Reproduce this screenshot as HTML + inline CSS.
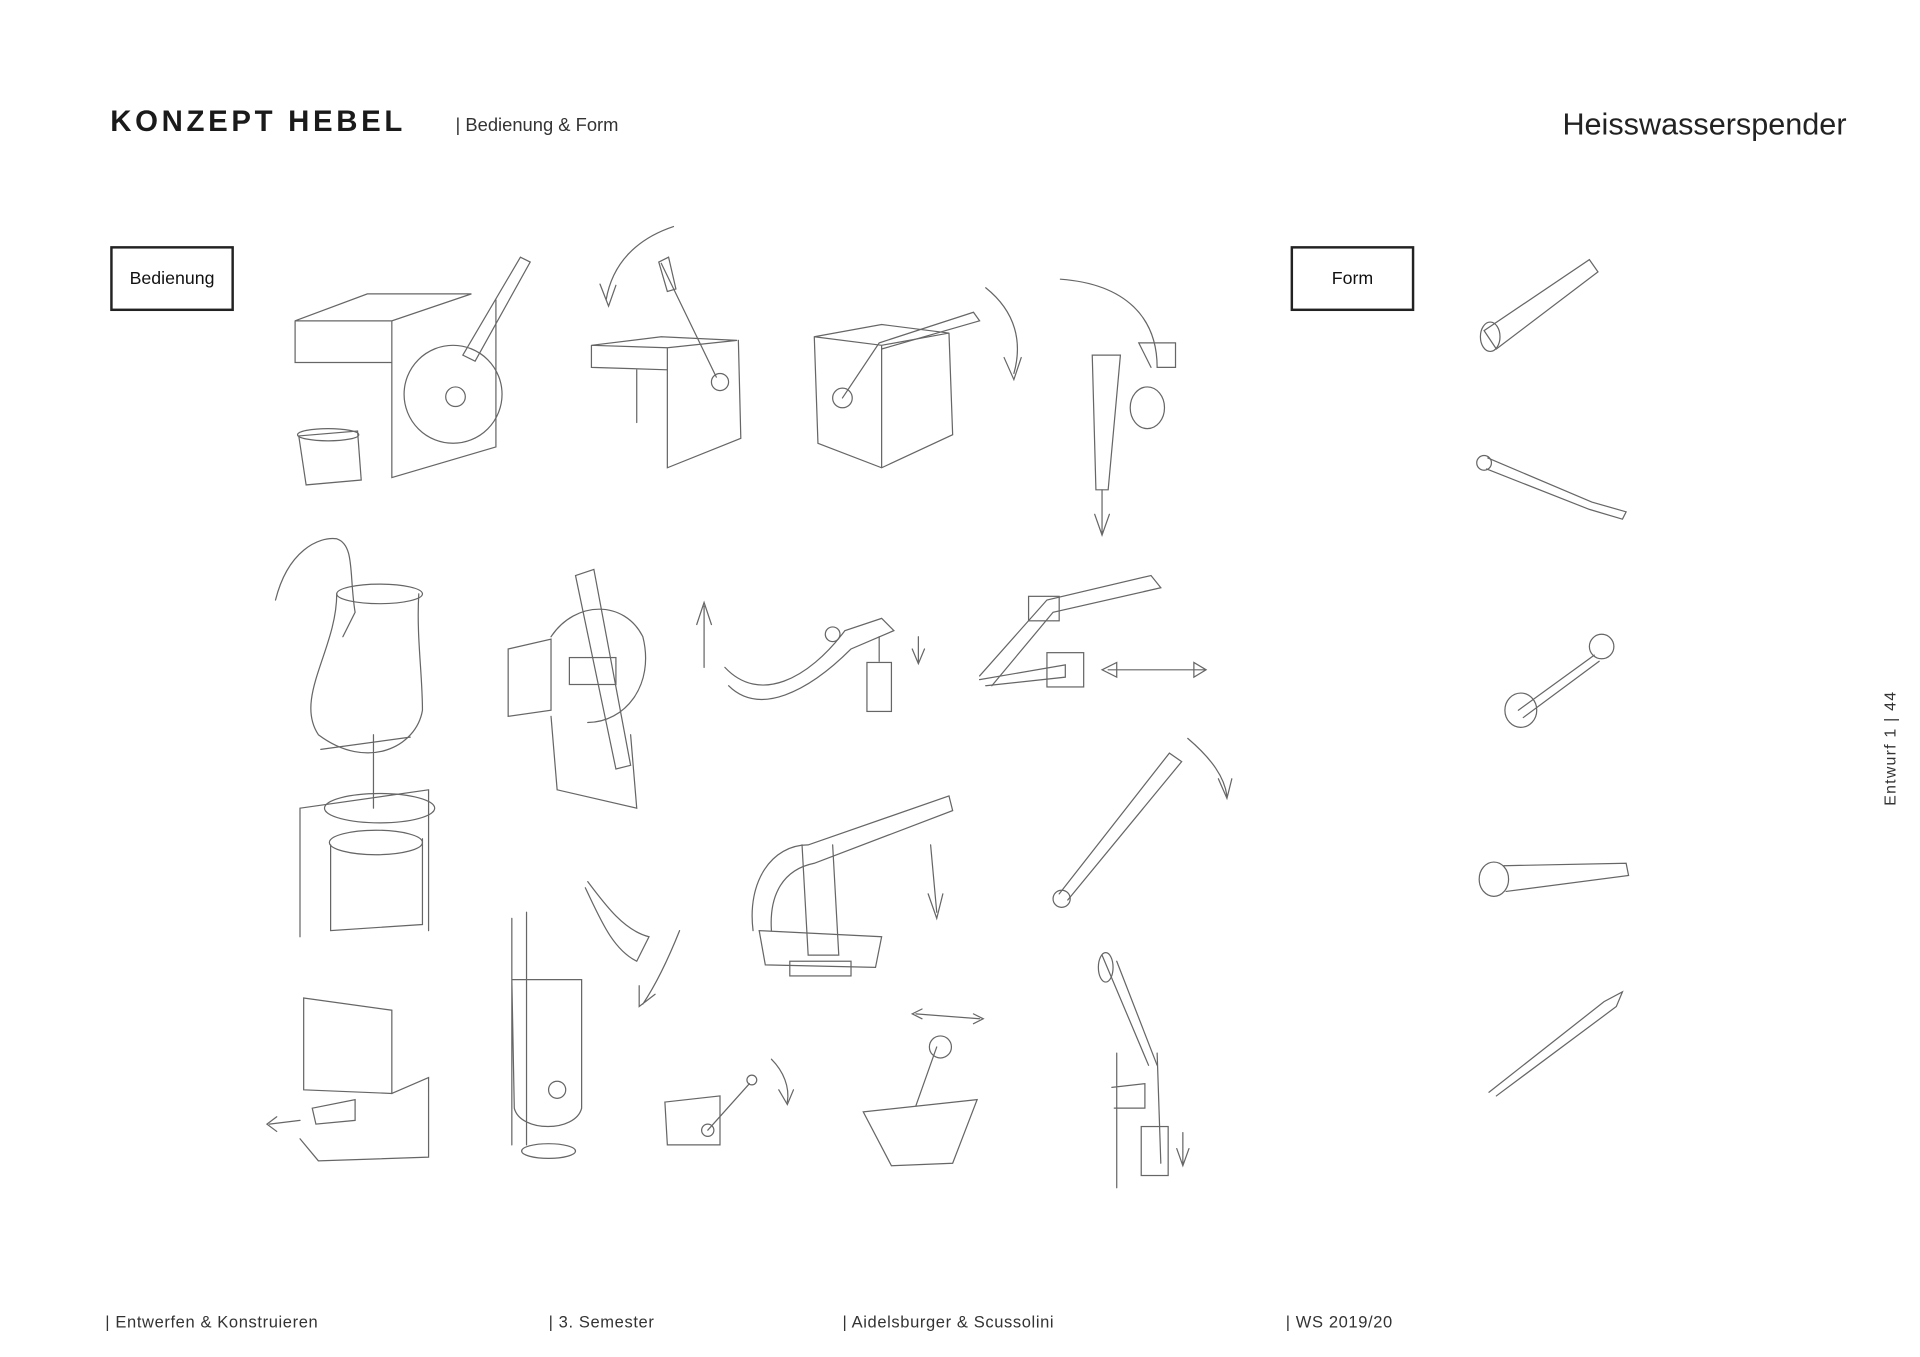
<!DOCTYPE html>
<html><head><meta charset="utf-8"><style>
html,body{margin:0;padding:0;background:#fff;}
body{width:1920px;height:1357px;overflow:hidden;}
svg{display:block}
</style></head><body>
<svg width="1920" height="1357" viewBox="0 0 1568 1108.2" xmlns="http://www.w3.org/2000/svg" font-family="Liberation Sans, sans-serif">
<text x="90" y="107" font-size="24" font-weight="bold" letter-spacing="3" fill="#1a1a1a">KONZEPT HEBEL</text>
<text x="372" y="107" font-size="15" fill="#333">| Bedienung &amp; Form</text>
<text x="1508" y="110" font-size="25" fill="#222" text-anchor="end" textLength="232" lengthAdjust="spacingAndGlyphs">Heisswasserspender</text>
<rect x="91" y="202" width="99" height="51" fill="none" stroke="#222" stroke-width="2"/>
<text x="140.5" y="232" font-size="14.5" text-anchor="middle" fill="#111">Bedienung</text>
<rect x="1055" y="202" width="99" height="51" fill="none" stroke="#222" stroke-width="2"/>
<text x="1104.5" y="232" font-size="14.5" text-anchor="middle" fill="#111">Form</text>
<g font-size="13.5" fill="#333" letter-spacing="0.5">
<text x="86" y="1084">|  Entwerfen &amp; Konstruieren</text>
<text x="448" y="1084">|  3. Semester</text>
<text x="688" y="1084">|  Aidelsburger &amp;  Scussolini</text>
<text x="1050" y="1084">|  WS 2019/20</text>
</g>
<text transform="translate(1548,658) rotate(-90)" font-size="13" fill="#333" letter-spacing="1">Entwurf 1   |   44</text>
<g fill="none" stroke="#666" stroke-width="1" stroke-linecap="round">
<!-- sketch 1 -->
<path d="M241 262 L300 240 L385 240 L320 262 Z M241 262 L241 296 L320 296 M320 262 L320 390 L405 365 L405 245"/>
<circle cx="370" cy="322" r="40"/><circle cx="372" cy="324" r="8"/>
<path d="M378 290 L425 210 L433 214 L388 295 Z"/>
<path d="M244 356 L292 352 L295 392 L250 396 Z"/><ellipse cx="268" cy="355" rx="25" ry="5"/>
<!-- sketch 2 -->
<path d="M483 282 L540 275 L602 278 L545 284 Z M483 282 L483 300 L545 302 M545 284 L545 382 L605 358 L603 278 M520 302 L520 345"/>
<path d="M540 215 L585 308"/><circle cx="588" cy="312" r="7"/><path d="M538 214 L546 210 L552 236 L545 238 Z"/>
<path d="M550 185 C520 195 500 215 495 245 M490 232 L497 250 L503 233"/>
<!-- sketch 3 -->
<path d="M665 275 L720 265 L775 272 L720 282 Z M665 275 L668 362 L720 382 L778 355 L775 272 M720 282 L720 382"/>
<circle cx="688" cy="325" r="8"/><path d="M688 325 L718 280 L795 255 L800 262 L720 285"/>
<path d="M805 235 C830 255 835 280 828 305 M820 292 L828 310 L834 292"/>
<!-- sketch 4 -->
<path d="M866 228 C920 232 945 260 945 300 L960 300 L960 280 L930 280 L940 300"/>
<path d="M892 290 L915 290 L905 400 L895 400 Z"/><ellipse cx="937" cy="333" rx="14" ry="17"/>
<path d="M900 400 L900 435 M894 420 L900 437 L906 420"/>
<!-- sketch 5 -->
<path d="M225 490 C235 450 260 438 275 440 C290 445 285 470 290 500 L280 520"/>
<ellipse cx="310" cy="485" rx="35" ry="8"/><path d="M275 485 C275 530 240 570 260 600 C300 630 340 610 345 580 C345 550 340 520 342 485"/>
<path d="M262 612 L335 602"/><path d="M305 600 L305 660"/>
<path d="M245 660 L350 645 L350 760 M245 660 L245 765"/>
<ellipse cx="310" cy="660" rx="45" ry="12"/>
<path d="M270 690 L270 760 L345 755 L345 685"/><ellipse cx="307" cy="688" rx="38" ry="10"/>
<!-- sketch 6 -->
<path d="M415 530 L450 522 L450 580 L415 585 Z"/><path d="M450 520 C470 490 510 490 525 520 C535 560 510 590 480 590"/>
<path d="M470 470 L485 465 L515 625 L503 628 Z"/><rect x="465" y="537" width="38" height="22"/>
<path d="M450 585 L455 645 L520 660 L515 600"/>
<!-- sketch 7 -->
<path d="M592 545 C620 575 660 555 690 515 L720 505 L730 515 L695 530 C660 565 620 585 595 560"/>
<circle cx="680" cy="518" r="6"/><rect x="708" y="541" width="20" height="40"/><path d="M718 520 L718 540"/>
<path d="M575 545 L575 495 M569 510 L575 492 L581 510"/><path d="M750 520 L750 540 M745 530 L750 542 L755 530"/>
<!-- sketch 8 -->
<path d="M800 552 L855 490 L940 470 L948 480 L860 500 L810 560"/>
<rect x="840" y="487" width="25" height="20"/><rect x="855" y="533" width="30" height="28"/>
<path d="M800 555 L870 543 L870 553 L805 560"/><path d="M905 547 L985 547 M900 547 L912 541 L912 553 Z M985 547 L975 541 L975 553 Z"/>
<!-- sketch 9 -->
<path d="M615 760 C610 720 630 690 660 690 L775 650 L778 662 L665 705 C640 710 628 730 630 760"/>
<path d="M655 690 L660 780 L685 780 L680 690"/><path d="M620 760 L720 765 L715 790 L625 788 Z"/>
<rect x="645" y="785" width="50" height="12"/><path d="M760 690 L765 745 M758 730 L765 750 L770 730"/>
<!-- sketch 10 -->
<path d="M865 730 L955 615 L965 622 L872 735"/><circle cx="867" cy="734" r="7"/>
<path d="M970 603 C990 620 1000 635 1002 650 M995 636 L1002 652 L1006 636"/>
<!-- sketch 11 -->
<path d="M248 815 L320 825 L320 893 L248 890 Z"/><path d="M320 893 L350 880 L350 945 L260 948 L245 930"/>
<path d="M255 905 L290 898 L290 915 L258 918 Z"/><path d="M245 915 L220 918 M226 912 L218 918 L226 924"/>
<!-- sketch 12 -->
<path d="M418 800 L475 800 L475 905 C470 925 425 925 420 905 Z M418 750 L418 935 M430 745 L430 935"/>
<circle cx="455" cy="890" r="7"/><ellipse cx="448" cy="940" rx="22" ry="6"/>
<path d="M480 720 C495 740 510 760 530 765 L520 785 C500 775 490 750 478 725"/>
<path d="M555 760 C545 785 535 805 525 820 M522 805 L522 822 L535 812"/>
<!-- sketch 13 -->
<path d="M543 900 L588 895 L588 935 L545 935 Z"/><path d="M578 923 L612 885"/><circle cx="578" cy="923" r="5"/><circle cx="614" cy="882" r="4"/>
<path d="M630 865 C640 875 645 888 643 900 M636 890 L643 902 L648 890"/>
<!-- sketch 14 -->
<path d="M705 908 L798 898 L778 950 L728 952 Z"/><path d="M748 903 L765 855"/><circle cx="768" cy="855" r="9"/>
<path d="M748 828 L800 832 M753 824 L745 828 L753 832 M795 828 L803 832 L795 836"/>
<!-- sketch 15 -->
<path d="M900 780 L938 870 M912 785 L945 870"/><ellipse cx="903" cy="790" rx="6" ry="12"/>
<path d="M912 860 L912 970 M908 888 L935 885 L935 905 L910 905"/><path d="M945 860 L948 950"/>
<rect x="932" y="920" width="22" height="40"/><path d="M966 925 L966 950 M961 938 L966 952 L971 938"/>
<!-- Form column -->
<path d="M1212 270 L1298 212 L1305 222 L1222 285 Z"/><ellipse cx="1217" cy="275" rx="8" ry="12"/>
<circle cx="1212" cy="378" r="6"/><path d="M1215 374 L1300 410 L1328 418 L1325 424 L1298 416 L1214 383"/>
<circle cx="1308" cy="528" r="10"/><path d="M1240 580 L1302 535 M1244 586 L1306 540"/><ellipse cx="1242" cy="580" rx="13" ry="14"/>
<ellipse cx="1220" cy="718" rx="12" ry="14"/><path d="M1228 707 L1328 705 L1330 715 L1230 728"/>
<path d="M1216 892 L1310 818 L1325 810 L1320 822 L1222 895"/>
</g>
</svg>
</body></html>
